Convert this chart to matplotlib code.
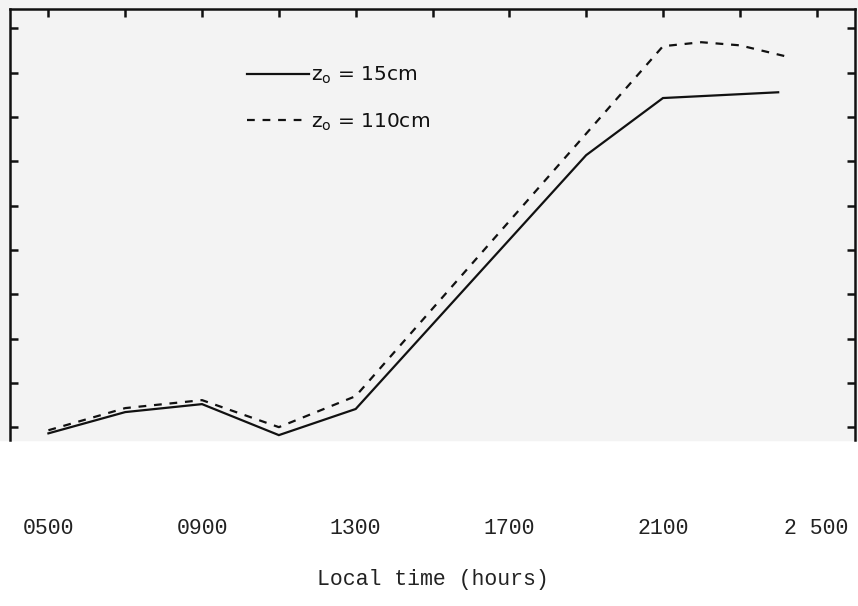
import matplotlib.pyplot as plt
from matplotlib.patches import Rectangle

# tiempos (horas locales) y valores (unidades = marcas del eje y)
hours_15 = [5, 7, 9, 11, 13, 19, 21, 24]
vals_15 = [-0.14, 0.34, 0.52, -0.18, 0.41, 6.14, 7.43, 7.56]

hours_110 = [5, 7, 9, 11, 13, 21, 22, 23, 24.3]
vals_110 = [-0.07, 0.43, 0.61, 0.0, 0.70, 8.60, 8.69, 8.62, 8.35]

tick_hours = [5, 9, 13, 17, 21, 25]
tick_labels = ['0500', '0900', '1300', '1700', '2100', '2 500']
minor_hours = [7, 11, 15, 19, 23]
y_ticks = list(range(10))

fig = plt.figure(figsize=(8.58, 6.06), dpi=100)
fig.patch.set_facecolor('white')
# zona escaneada (gris claro), detras de los ejes
fig.patches.append(Rectangle((0, 1 - 440 / 606), 1, 440 / 606, transform=fig.transFigure,
                             color='#f3f3f3', zorder=-10))

ax = fig.add_axes([10 / 858, 1 - 440 / 606, 845 / 858, 431 / 606])
ax.set_facecolor('#f3f3f3')

ax.plot(hours_15, vals_15, color='#111111', lw=1.6, solid_joinstyle='miter',
        label=r'z$_\mathregular{o}$ = 15cm')
ax.plot(hours_110, vals_110, color='#111111', lw=1.6, ls=(0, (3.5, 3.5)),
        label=r'z$_\mathregular{o}$ = 110cm')

ax.set_xlim(4, 26)
ax.set_ylim(-0.29, 9.44)

ax.set_xticks(tick_hours)
ax.set_xticklabels(tick_labels, family='Liberation Mono', fontsize=15.5, color='#222222')
ax.set_xticks(minor_hours, minor=True)
ax.set_yticks(y_ticks)
ax.set_yticklabels([])

ax.tick_params(which='both', direction='in', top=True, bottom=False, left=True, right=True,
               labelbottom=True, labelleft=False, length=6, width=1.8, color='#111111')
ax.tick_params(axis='x', which='major', pad=56)

for side in ['left', 'top', 'right']:
    ax.spines[side].set_linewidth(1.8)
    ax.spines[side].set_color('#111111')
ax.spines['bottom'].set_visible(False)

ax.set_xlabel('Local time (hours)', family='Liberation Mono', fontsize=15.5,
              color='#222222', labelpad=22)

leg = ax.legend(loc='upper left', bbox_to_anchor=(0.28, 0.87), frameon=False,
                fontsize=14.5, handlelength=3.1, handletextpad=0.1, labelspacing=1.25,
                borderpad=0, borderaxespad=0)
for t in leg.get_texts():
    t.set_color('#111111')

fig.savefig('out.png', dpi=100)
